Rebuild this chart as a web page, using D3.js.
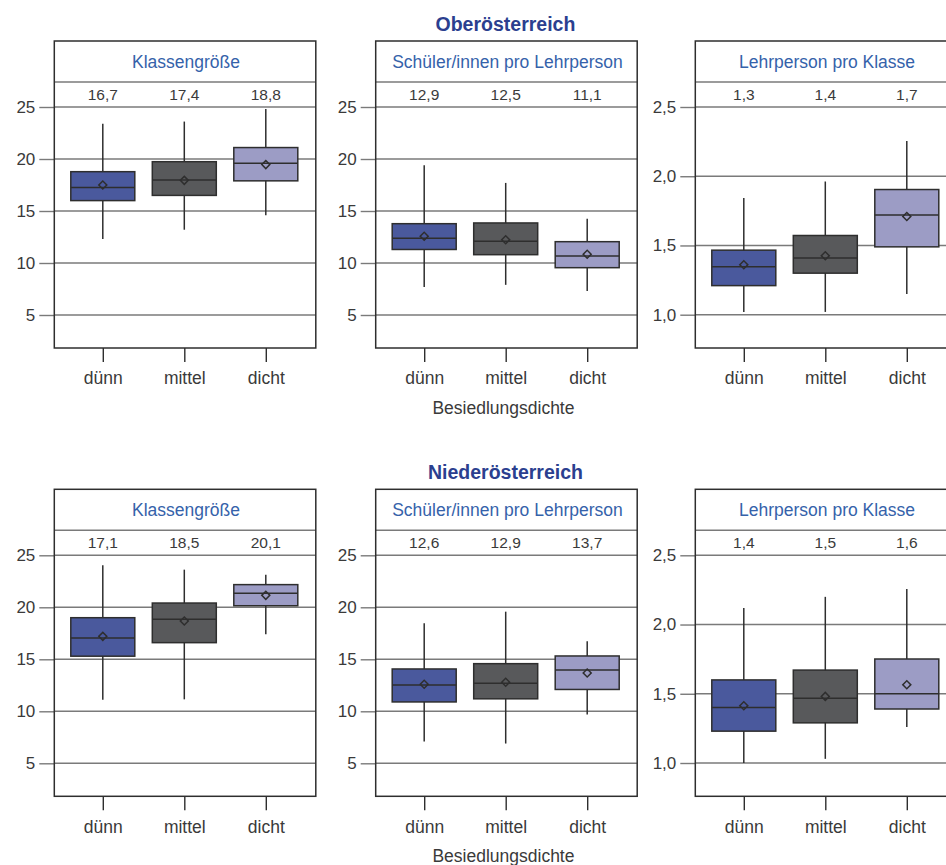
<!DOCTYPE html>
<html>
<head>
<meta charset="utf-8">
<script src="https://cdn.jsdelivr.net/npm/d3@7"></script>
<style>
  body { margin: 0; background: #fff; }
  svg { display: block; font-family: "Liberation Sans", Arial, sans-serif; }
</style>
</head>
<body>
<svg id="chart" width="946" height="865"></svg>
<script>
// ---------- data ----------
const regions = ["Oberösterreich", "Niederösterreich"];
const measures = ["Klassengröße", "Schüler/innen pro Lehrperson", "Lehrperson pro Klasse"];
const categories = ["dünn", "mittel", "dicht"];
const xAxisTitle = "Besiedlungsdichte";

// one row per panel: OÖ Klasse, OÖ Schüler, OÖ Lehrp., NÖ Klasse, NÖ Schüler, NÖ Lehrp.
const whiskerLow  = [[12.3, 13.2, 14.6], [7.7, 7.9, 7.3], [1.02, 1.02, 1.15],
                     [11.1, 11.15, 17.4], [7.1, 6.9, 9.7], [1.0, 1.03, 1.26]];
const q1          = [[16.0, 16.5, 17.9], [11.3, 10.8, 9.55], [1.21, 1.30, 1.49],
                     [15.3, 16.6, 20.15], [10.9, 11.2, 12.1], [1.23, 1.29, 1.39]];
const median      = [[17.25, 17.98, 19.6], [12.37, 12.1, 10.67], [1.347, 1.41, 1.72],
                     [17.05, 18.85, 21.35], [12.53, 12.69, 13.97], [1.40, 1.467, 1.50]];
const q3          = [[18.78, 19.74, 21.1], [13.78, 13.85, 12.05], [1.466, 1.572, 1.904],
                     [19.0, 20.41, 22.18], [14.07, 14.58, 15.32], [1.60, 1.671, 1.751]];
const whiskerHigh = [[23.4, 23.6, 24.8], [19.4, 17.7, 14.26], [1.843, 1.962, 2.255],
                     [24.04, 23.62, 23.14], [18.46, 19.58, 16.73], [2.12, 2.20, 2.257]];
const means       = [[17.5, 17.95, 19.46], [12.57, 12.24, 10.84], [1.361, 1.426, 1.709],
                     [17.21, 18.68, 21.15], [12.6, 12.79, 13.68], [1.413, 1.481, 1.565]];
const headerValues = [["16,7", "17,4", "18,8"], ["12,9", "12,5", "11,1"], ["1,3", "1,4", "1,7"],
                      ["17,1", "18,5", "20,1"], ["12,6", "12,9", "13,7"], ["1,4", "1,5", "1,6"]];

const countTicks = [5, 10, 15, 20, 25];
const ratioTicks = [1.0, 1.5, 2.0, 2.5];

// ---------- styles / layout ----------
const fills = ["#4a599d", "#58595b", "#9c9cc5"];
const strokeDark = "#2e2e2e";
const gridColor = "#7a7a7a";
const textColor = "#3a3a3a";
const headerBlue = "#3562aa";
const titleBlue = "#2b3f8f";

const panelLefts = [54.3, 375.7, 695.3];
const rowTops = [41, 489.3];
const panelW = 261.5;
const frameH = 307;
const headerLineY = 41;   // relative to frame top
const grid25Y = 66;
const boxW = 64;

const svg = d3.select("#chart");
const comma = d3.formatLocale({decimal: ",", thousands: ".", grouping: [3], currency: ["", "€"]});
const fmt1 = comma.format(".1f");

regions.forEach((region, r) => {
  const top = rowTops[r];
  // region title centered over middle panel
  svg.append("text")
    .attr("x", panelLefts[1] + panelW / 2 - 1)
    .attr("y", top - 10.5)
    .attr("text-anchor", "middle")
    .attr("font-size", 19.5)
    .attr("font-weight", "bold")
    .attr("fill", titleBlue)
    .text(region);

  // x-axis title under middle panel
  svg.append("text")
    .attr("x", panelLefts[1] + panelW / 2 - 3)
    .attr("y", top + 373)
    .attr("text-anchor", "middle")
    .attr("font-size", 17.5)
    .attr("fill", textColor)
    .text(xAxisTitle);

  measures.forEach((measure, m) => {
    const p = r * 3 + m;
    const left = panelLefts[m];
    const g = svg.append("g").attr("transform", `translate(${left},${top})`);

    const isRatio = m === 2;
    const ticks = isRatio ? ratioTicks : countTicks;
    const y = isRatio
      ? d3.scaleLinear().domain([1.0, 2.5]).range([273.7, grid25Y])
      : d3.scaleLinear().domain([5, 25]).range([274, grid25Y]);
    const x = d3.scalePoint().domain(categories).range([48.5, 211.5]);

    // grid lines
    g.append("g").selectAll("line").data(ticks).join("line")
      .attr("x1", 0).attr("x2", panelW)
      .attr("y1", d => y(d)).attr("y2", d => y(d))
      .attr("stroke", gridColor).attr("stroke-width", 1.4);

    // y axis (ticks outside frame)
    const yAxis = d3.axisLeft(y).tickValues(ticks).tickSize(15).tickPadding(4)
      .tickFormat(d => isRatio ? fmt1(d) : d3.format("d")(d));
    const ya = g.append("g").call(yAxis);
    ya.select(".domain").remove();
    ya.selectAll(".tick line").attr("stroke", gridColor).attr("stroke-width", 1.4);
    ya.selectAll(".tick text").attr("fill", textColor).attr("font-size", 17)
      .attr("font-family", "Liberation Sans, Arial, sans-serif");

    // x axis (bottom)
    const xAxis = d3.axisBottom(x).tickSize(14).tickPadding(10);
    const xa = g.append("g").attr("transform", `translate(0,${frameH})`).call(xAxis);
    xa.select(".domain").remove();
    xa.selectAll(".tick line").attr("stroke", strokeDark).attr("stroke-width", 1.4);
    xa.selectAll(".tick text").attr("fill", textColor).attr("font-size", 17.5)
      .attr("font-family", "Liberation Sans, Arial, sans-serif");

    // header strip
    g.append("line").attr("x1", 0).attr("x2", panelW)
      .attr("y1", headerLineY).attr("y2", headerLineY)
      .attr("stroke", gridColor).attr("stroke-width", 1.4);
    g.append("text")
      .attr("x", panelW / 2 + 1).attr("y", 26.5)
      .attr("text-anchor", "middle")
      .attr("font-size", 17.5)
      .attr("fill", headerBlue)
      .text(measure);
    g.append("g").selectAll("text").data(categories).join("text")
      .attr("x", d => x(d)).attr("y", 59)
      .attr("text-anchor", "middle")
      .attr("font-size", 15.5)
      .attr("fill", textColor)
      .text((d, i) => headerValues[p][i]);

    // boxplots
    const bg = g.append("g").selectAll("g").data(categories).join("g");
    bg.append("line")
      .attr("x1", d => x(d)).attr("x2", d => x(d))
      .attr("y1", (d, i) => y(whiskerHigh[p][i]))
      .attr("y2", (d, i) => y(whiskerLow[p][i]))
      .attr("stroke", strokeDark).attr("stroke-width", 1.5);
    bg.append("rect")
      .attr("x", d => x(d) - boxW / 2)
      .attr("width", boxW)
      .attr("y", (d, i) => y(q3[p][i]))
      .attr("height", (d, i) => y(q1[p][i]) - y(q3[p][i]))
      .attr("fill", (d, i) => fills[i])
      .attr("stroke", strokeDark).attr("stroke-width", 1.5);
    bg.append("line")
      .attr("x1", d => x(d) - boxW / 2).attr("x2", d => x(d) + boxW / 2)
      .attr("y1", (d, i) => y(median[p][i])).attr("y2", (d, i) => y(median[p][i]))
      .attr("stroke", strokeDark).attr("stroke-width", 1.5);
    bg.append("path")
      .attr("d", d3.symbol(d3.symbolSquare, 32))
      .attr("transform", (d, i) => `translate(${x(d)},${y(means[p][i])}) rotate(45)`)
      .attr("fill", "none")
      .attr("stroke", strokeDark).attr("stroke-width", 1.5);

    // frame
    g.append("rect").attr("x", 0).attr("y", 0)
      .attr("width", panelW).attr("height", frameH)
      .attr("fill", "none").attr("stroke", strokeDark).attr("stroke-width", 1.5);
  });
});
</script>
</body>
</html>
